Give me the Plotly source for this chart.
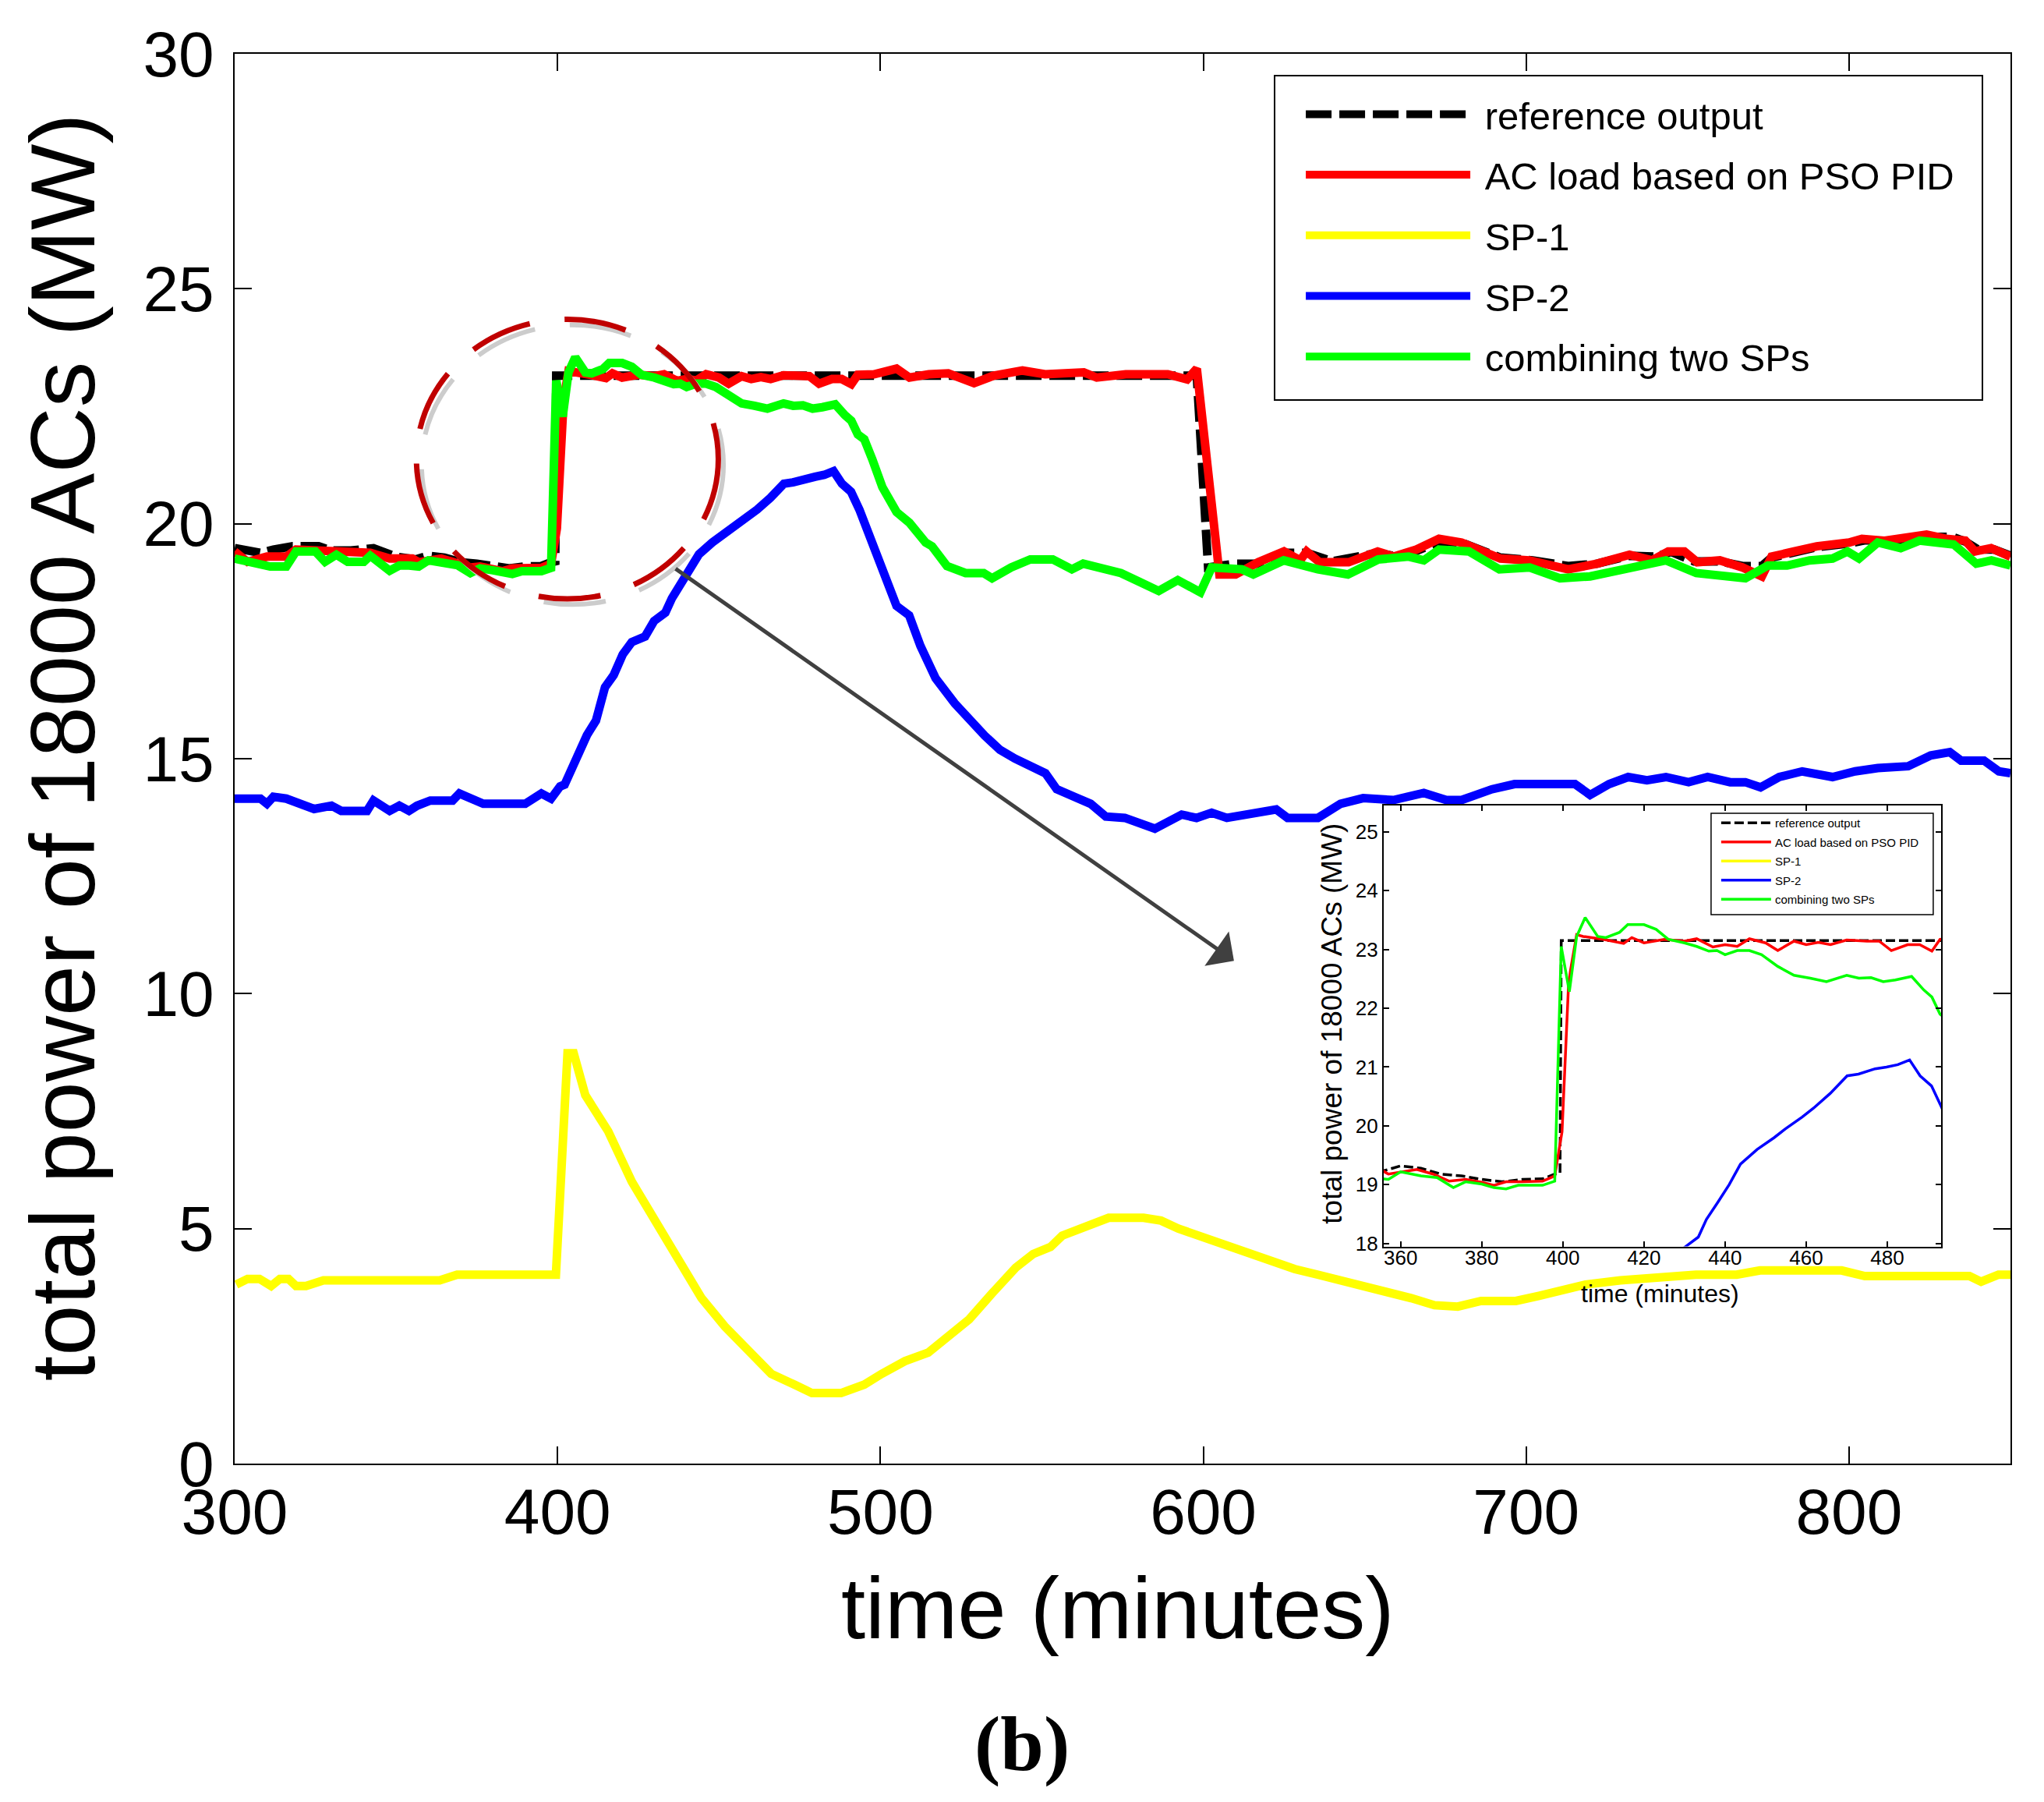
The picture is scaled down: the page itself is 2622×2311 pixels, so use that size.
import plotly.graph_objects as go

# ---- data (time in minutes, power in MW) ----
ref_t = [300, 305, 308, 312, 318, 326, 330, 336, 343, 350, 356, 358, 360, 365, 370, 375,
         380, 385, 390, 395, 398, 399.3, 399.6, 598, 601.5, 605, 610, 617, 625, 632, 640,
         654, 660, 666, 673, 680, 685, 692, 702, 713, 722, 732, 740, 745, 752, 760, 767,
         773, 776, 783, 790, 800, 805, 812, 818, 824, 832, 836, 840, 845, 850]
ref_v = [19.48, 19.42, 19.38, 19.45, 19.52, 19.52, 19.43, 19.43, 19.48, 19.30, 19.24, 19.28,
         19.32, 19.28, 19.18, 19.15, 19.09, 19.05, 19.09, 19.10, 19.18, 19.20, 23.15, 23.15,
         19.07, 19.10, 19.15, 19.15, 19.38, 19.38, 19.20, 19.38, 19.30, 19.42, 19.62, 19.60,
         19.45, 19.28, 19.22, 19.10, 19.15, 19.32, 19.30, 19.40, 19.20, 19.20, 19.10, 19.10,
         19.28, 19.40, 19.50, 19.58, 19.65, 19.62, 19.68, 19.72, 19.72, 19.62, 19.45, 19.45,
         19.32]

pid_t = [300, 304, 310, 316, 319, 325, 330, 335, 342, 348, 355, 357, 360, 364, 368, 372,
         376, 380, 383, 386, 390, 395, 397, 398, 399.8, 401.4, 401.9, 403.4, 405, 410, 415,
         417, 420, 425, 430, 433, 437, 440, 443, 446, 450, 453, 457, 460, 463, 466, 470,
         475, 478, 481, 485, 488, 491, 493, 498, 505, 509, 515, 521, 529, 535, 544, 551,
         563, 567, 576, 589, 595, 598, 605, 610, 617, 625, 630, 632, 636, 645, 654, 659,
         666, 673, 680, 685, 692, 701, 706, 713, 722, 732, 739, 744, 749, 753, 760, 767,
         773, 776, 783, 790, 800, 804, 811, 818, 824, 830, 836, 839, 844, 850]
pid_v = [19.41, 19.19, 19.30, 19.30, 19.45, 19.44, 19.41, 19.38, 19.38, 19.26, 19.26, 19.18,
         19.21, 19.26, 19.18, 19.06, 19.09, 19.04, 18.99, 19.05, 19.05, 19.06, 19.12, 19.15,
         19.90, 22.40, 22.65, 23.25, 23.22, 23.17, 23.10, 23.20, 23.11, 23.17, 23.14, 23.18,
         23.04, 23.08, 23.05, 23.18, 23.11, 22.98, 23.14, 23.08, 23.12, 23.08, 23.16, 23.14,
         23.14, 22.98, 23.08, 23.08, 22.97, 23.17, 23.18, 23.30, 23.11, 23.18, 23.20, 22.99,
         23.15, 23.26, 23.18, 23.22, 23.11, 23.18, 23.18, 23.07, 23.30, 18.92, 18.92, 19.18,
         19.41, 19.22, 19.41, 19.18, 19.18, 19.41, 19.30, 19.45, 19.68, 19.60, 19.45, 19.26,
         19.22, 19.15, 19.03, 19.15, 19.34, 19.22, 19.41, 19.41, 19.18, 19.22, 19.07, 18.88,
         19.30, 19.41, 19.52, 19.60, 19.68, 19.64, 19.71, 19.77, 19.68, 19.64, 19.41, 19.48,
         19.30]

sp1_t = [300.5, 304, 307.7, 311.3, 314, 316.7, 319, 322.1, 327.5, 363.5, 368.9, 399.5, 403.1,
         405, 408.6, 415.7, 423, 430.2, 437.4, 444.6, 451.8, 459, 466.2, 473.4, 478.8, 487.8,
         495, 500.4, 507.6, 514.8, 520.2, 527.5, 534.7, 541.9, 547.3, 552.7, 556.3, 563.5,
         570.7, 581.5, 586.9, 592.3, 599.5, 606.7, 613.9, 621.1, 628.3, 635.5, 642.7, 650,
         657.2, 664.4, 671.6, 678.8, 686, 696.8, 704, 711.2, 718.4, 729.2, 740, 752.6, 765.2,
         772.4, 797.7, 804.9, 837.3, 840.9, 846.3, 850]
sp1_v = [3.81, 3.93, 3.93, 3.78, 3.93, 3.93, 3.78, 3.78, 3.90, 3.90, 4.02, 4.02, 8.73, 8.73,
         7.84, 7.07, 6.00, 5.17, 4.40, 3.52, 2.92, 2.39, 1.91, 1.68, 1.50, 1.50, 1.68, 1.91,
         2.18, 2.36, 2.66, 3.07, 3.63, 4.17, 4.46, 4.61, 4.85, 5.06, 5.23, 5.23, 5.17, 5.00,
         4.82, 4.64, 4.46, 4.29, 4.14, 4.02, 3.90, 3.78, 3.66, 3.52, 3.37, 3.34, 3.46, 3.46,
         3.57, 3.69, 3.81, 3.90, 3.96, 4.02, 4.02, 4.11, 4.11, 3.99, 3.99, 3.87, 4.02, 4.02]

sp2_t = [300, 308, 310, 312, 316, 320, 324.6, 330, 333, 341, 343, 348, 351, 354, 356.5,
         360.6, 367.5, 369.6, 374.5, 377, 390, 395, 398, 400.8, 402.2, 406.3, 409.1, 411.9,
         414.7, 417.4, 420.2, 423, 427.1, 429.9, 433.4, 435.4, 438.2, 441, 443.8, 447.9,
         452.1, 454.9, 459, 461.8, 465.9, 470.1, 472.9, 477, 479.8, 482.6, 485.5, 488.1,
         490.9, 493.5, 496.4, 499.5, 505, 508.9, 512.4, 517.1, 523, 532.3, 537, 541.7, 551.1,
         554.6, 565.1, 569.8, 575.7, 585, 593.3, 597.9, 602.6, 607.3, 616.7, 622.6, 626.1,
         635.5, 642.5, 649.5, 658.9, 668.3, 675.3, 680, 689.4, 696.4, 705.8, 715.1, 719.8,
         725.7, 731.6, 737.4, 743.3, 750.3, 756.2, 763.2, 767.9, 772.6, 778.4, 785.5, 794.9,
         801.9, 808.9, 818.3, 825.3, 831.2, 834.7, 841.8, 846.4, 850]
sp2_v = [14.15, 14.15, 14.04, 14.19, 14.15, 14.05, 13.93, 14.00, 13.89, 13.89, 14.11, 13.89,
         14.00, 13.89, 14.00, 14.11, 14.11, 14.26, 14.11, 14.04, 14.04, 14.26, 14.15, 14.41,
         14.45, 15.10, 15.50, 15.81, 16.52, 16.78, 17.22, 17.48, 17.60, 17.93, 18.11, 18.41,
         18.70, 19.00, 19.35, 19.60, 19.80, 19.95, 20.15, 20.30, 20.55, 20.85, 20.88, 20.97,
         21.00, 21.04, 21.12, 20.85, 20.68, 20.30, 19.80, 19.22, 18.25, 18.05, 17.40, 16.71,
         16.18, 15.49, 15.19, 15.00, 14.69, 14.35, 14.04, 13.77, 13.74, 13.51, 13.81, 13.74,
         13.85, 13.74, 13.85, 13.92, 13.74, 13.74, 14.04, 14.16, 14.12, 14.27, 14.12, 14.12,
         14.35, 14.46, 14.46, 14.46, 14.23, 14.46, 14.61, 14.54, 14.61, 14.50, 14.61, 14.50,
         14.50, 14.39, 14.61, 14.73, 14.61, 14.73, 14.80, 14.84, 15.07, 15.14, 14.96, 14.96,
         14.73, 14.69]

both_t = [300, 304, 311, 316, 319, 325, 328, 331.5, 335, 340, 342, 348, 351, 354, 357, 360,
          365, 369, 373, 376, 380, 383, 386, 389, 395, 398, 399.6, 401.6, 403.4, 405.5, 408.6,
          410.6, 414, 416, 420, 423, 426, 430, 433, 436, 438, 440, 443, 446, 449, 453, 457,
          461, 465, 470, 473, 476, 479, 482, 486, 489, 491, 493, 495, 497.5, 500.6, 505, 509,
          514, 516, 520.6, 526.4, 532, 534.6, 540.5, 546.4, 553.4, 559.3, 562.8, 568.6, 574.5,
          580.4, 586.2, 592.1, 599.1, 602.6, 612, 615.5, 624.9, 635.5, 644.8, 654.2, 663.6,
          668.3, 673, 682.3, 691.7, 701.1, 710.5, 719.8, 729.2, 738.6, 743.3, 752.7, 759.7,
          767.9, 774.9, 780.8, 787.8, 794.9, 799.5, 803.1, 808.9, 816, 821.8, 832.4, 839.4,
          844.1, 850]
both_v = [19.26, 19.19, 19.09, 19.09, 19.41, 19.41, 19.19, 19.34, 19.19, 19.19, 19.32, 19.00,
          19.11, 19.11, 19.09, 19.22, 19.15, 19.12, 18.95, 19.05, 19.01, 18.95, 18.93, 18.99,
          18.99, 19.06, 23.05, 22.28, 23.22, 23.54, 23.22, 23.20, 23.29, 23.42, 23.42, 23.34,
          23.17, 23.11, 23.05, 22.97, 22.98, 22.91, 22.98, 22.98, 22.91, 22.71, 22.56, 22.51,
          22.45, 22.56, 22.51, 22.52, 22.45, 22.48, 22.54, 22.31, 22.19, 21.90, 21.80, 21.37,
          20.78, 20.25, 20.02, 19.60, 19.52, 19.10, 18.95, 18.95, 18.84, 19.07, 19.24, 19.24,
          19.03, 19.15, 19.03, 18.95, 18.76, 18.57, 18.80, 18.54, 19.07, 19.03, 18.92, 19.22,
          19.03, 18.92, 19.24, 19.30, 19.22, 19.45, 19.41, 19.03, 19.07, 18.84, 18.88, 19.00,
          19.15, 19.22, 18.95, 18.92, 18.84, 19.11, 19.11, 19.22, 19.26, 19.41, 19.26, 19.60,
          19.48, 19.64, 19.56, 19.15, 19.22, 19.11]

series = [
    ("reference output", ref_t, ref_v, "black", True),
    ("AC load based on PSO PID", pid_t, pid_v, "#ff0000", False),
    ("SP-1", sp1_t, sp1_v, "#ffff00", False),
    ("SP-2", sp2_t, sp2_v, "#0000ff", False),
    ("combining two SPs", both_t, both_v, "#00ff00", False),
]

FONT = "Liberation Sans, Arial, sans-serif"
NBSP = "\u00a0"

fig = go.Figure()

# main axes
for name, t, v, color, dashed in series:
    fig.add_trace(go.Scatter(
        x=t, y=v, mode="lines", name=NBSP + name,
        legendgroup=name, legend="legend",
        line=dict(color=color, width=11, dash="33px,10px" if dashed else "solid"),
    ))

# zoomed inset: same data, narrower window
for name, t, v, color, dashed in series:
    fig.add_trace(go.Scatter(
        x=t, y=v, mode="lines", name=name,
        xaxis="x2", yaxis="y2",
        legendgroup="inset " + name, legend="legend2",
        line=dict(color=color, width=3.5, dash="12px,5px" if dashed else "solid"),
    ))

axis_common = dict(
    showline=True, linewidth=2, linecolor="black", mirror="ticks",
    ticks="inside", tickcolor="black",
    showgrid=False, zeroline=False,
)

fig.update_layout(
    width=2622, height=2311,
    margin=dict(l=293, r=51, t=61, b=442),
    paper_bgcolor="white", plot_bgcolor="rgba(0,0,0,0)",
    font=dict(family=FONT, color="black"),
    showlegend=True,
    xaxis=dict(
        range=[300, 850], tickvals=[300, 400, 500, 600, 700, 800],
        ticklen=22, tickwidth=2, tickfont=dict(size=82), ticklabelstandoff=-10,
        **axis_common,
    ),
    yaxis=dict(
        range=[0, 30], tickvals=[0, 5, 10, 15, 20, 25, 30],
        ticklen=22, tickwidth=2, tickfont=dict(size=82), ticklabelstandoff=8,
        **axis_common,
    ),
    xaxis2=dict(
        domain=[0.647, 0.961], anchor="y2",
        range=[355.8, 493.3], tickvals=[360, 380, 400, 420, 440, 460, 480],
        ticklen=7, tickwidth=1.5, tickfont=dict(size=26), ticklabelstandoff=-10,
        **axis_common,
    ),
    yaxis2=dict(
        domain=[0.154, 0.467], anchor="x2",
        range=[17.95, 25.45], tickvals=[18, 19, 20, 21, 22, 23, 24, 25],
        ticklen=7, tickwidth=1.5, tickfont=dict(size=26),
        **axis_common,
    ),
    legend=dict(
        x=0.601, xanchor="left", y=0.9784, yanchor="top",
        bgcolor="rgba(0,0,0,0)", borderwidth=0,
        font=dict(size=49), itemwidth=211, tracegroupgap=11,
    ),
    legend2=dict(
        x=0.8349, xanchor="left", y=0.4635, yanchor="top",
        bgcolor="rgba(0,0,0,0)", borderwidth=0,
        font=dict(size=15), itemwidth=64, tracegroupgap=2,
    ),
)

# legend frames
fig.add_shape(type="rect", xref="paper", yref="paper", layer="below",
              x0=0.5856, x1=0.9842, y0=0.7544, y1=0.9845,
              fillcolor="white", line=dict(color="black", width=2))
fig.add_shape(type="rect", xref="paper", yref="paper", layer="below",
              x0=0.8314, x1=0.9565, y0=0.3894, y1=0.4613,
              fillcolor="white", line=dict(color="black", width=1.5))

# axis titles and panel label
fig.add_annotation(text="time (minutes)", xref="paper", yref="paper",
                   x=0.497, y=-0.1026, xanchor="center", yanchor="middle",
                   showarrow=False, font=dict(size=112))
fig.add_annotation(text="total power of 18000 ACs (MW)", xref="paper", yref="paper",
                   x=-0.0965, y=0.5083, xanchor="center", yanchor="middle",
                   textangle=-90, showarrow=False, font=dict(size=117))
fig.add_annotation(text="time (minutes)", xref="paper", yref="paper",
                   x=0.8025, y=0.1206, xanchor="center", yanchor="middle",
                   showarrow=False, font=dict(size=32))
fig.add_annotation(text="total power of 18000 ACs (MW)", xref="paper", yref="paper",
                   x=0.618, y=0.312, xanchor="center", yanchor="middle",
                   textangle=-90, showarrow=False, font=dict(size=37))
fig.add_annotation(text="<b>(b)</b>", xref="paper", yref="paper",
                   x=0.4434, y=-0.1986, xanchor="center", yanchor="middle",
                   showarrow=False,
                   font=dict(size=100, family="Liberation Serif, Times New Roman, serif"))

# dashed circle around the step, with its light shadow
fig.add_shape(type="circle", xref="x", yref="y",
              x0=357.9, x1=451.4, y0=18.28, y1=24.23,
              line=dict(color="#cccccc", width=6, dash="80px,45px"))
fig.add_shape(type="circle", xref="x", yref="y",
              x0=356.3, x1=449.8, y0=18.40, y1=24.35,
              line=dict(color="#c00000", width=7, dash="80px,45px"))

# arrow pointing at the inset
fig.add_annotation(x=609.5, y=10.70, ax=436.2, ay=19.06,
                   xref="x", yref="y", axref="x", ayref="y",
                   text="", showarrow=True, arrowhead=1, arrowsize=1.8,
                   arrowwidth=5, arrowcolor="#404040", standoff=0)

fig.write_html("out.html")
